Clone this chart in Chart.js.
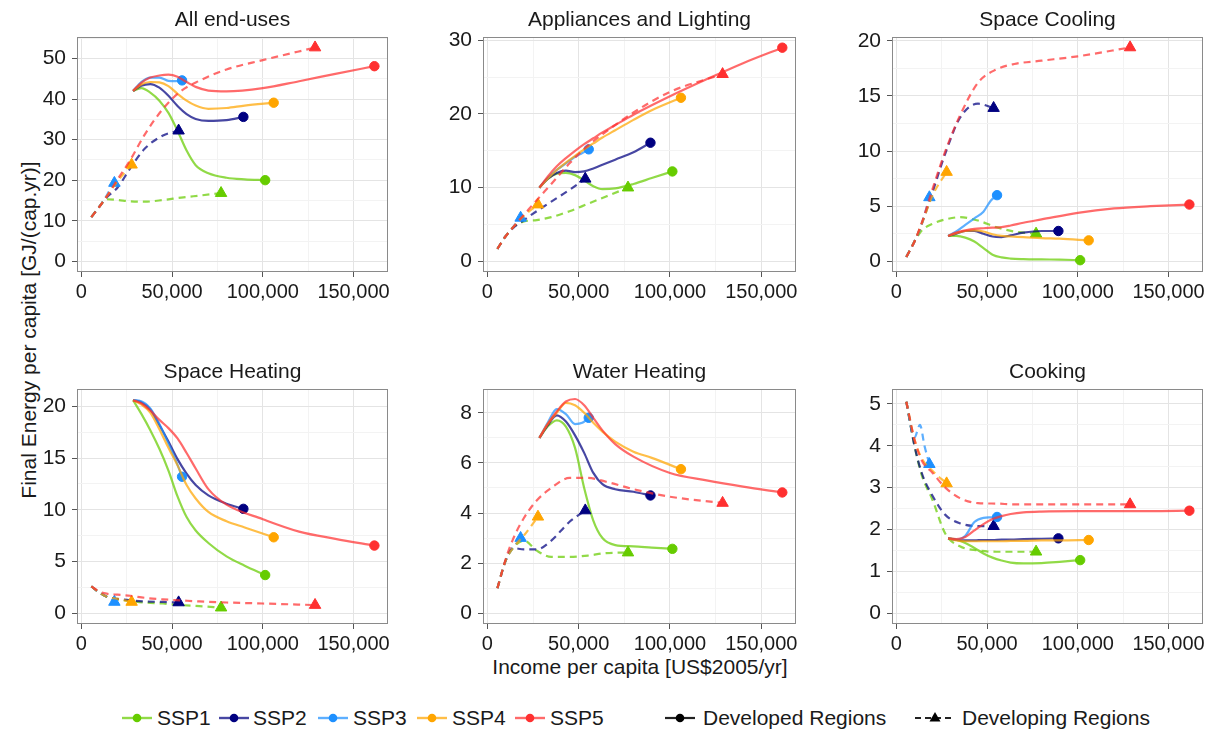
<!DOCTYPE html>
<html>
<head>
<meta charset="utf-8">
<script src="https://cdn.jsdelivr.net/npm/chart.js@4.4.1/dist/chart.umd.min.js"></script>
<style>
  body { margin: 0; background: #fff; width: 1215px; height: 731px; position: relative; overflow: hidden;
         font-family: "Liberation Sans", Arial, sans-serif; color: #1a1a1a; }
  canvas { position: absolute; }
  .txt { position: absolute; font-size: 21px; white-space: nowrap; line-height: 24px; }
  .ylab { left: 29px; top: 330px; transform: translate(-50%, -50%) rotate(-90deg); }
  .xlab { left: 640px; top: 667px; transform: translate(-50%, -50%); }
  .key { position: absolute; top: 708px; }
</style>
</head>
<body>
<div class="txt ylab">Final Energy per capita [GJ/(cap.yr)]</div>
<div class="txt xlab">Income per capita [US$2005/yr]</div>
<div id="legend"></div>

<script>
const FONT = '"Liberation Sans", Arial, sans-serif';

const ssps = ["SSP1", "SSP2", "SSP3", "SSP4", "SSP5"];
const panelTitles = ["All end-uses", "Appliances and Lighting", "Space Cooling",
                     "Space Heating", "Water Heating", "Cooking"];
const xTicks = [0, 50000, 100000, 150000];

// income per capita along each pathway (developed / developing), one row per SSP
const developedIncome = [
  [28500, 33000, 38000, 43000, 48000, 53000, 58000, 63000, 70000, 80000, 90000, 101300],
  [28500, 33000, 38000, 43000, 48000, 53000, 58000, 63000, 70000, 80000, 89300],
  [28500, 33000, 38000, 43000, 48000, 52000, 55500],
  [28500, 33000, 38000, 43000, 48000, 53000, 58000, 63000, 70000, 80000, 90000, 106000],
  [28500, 33000, 38000, 43000, 48000, 53000, 58000, 63000, 70000, 80000, 100000, 120000, 140000, 161500]
];
const developingIncome = [
  [5500, 10000, 14000, 20000, 27000, 35000, 45000, 55000, 65000, 77000],
  [5500, 10000, 14000, 20000, 27000, 35000, 45000, 53600],
  [5500, 10000, 13000, 15500, 18200],
  [5500, 10000, 14000, 20000, 27700],
  [5500, 10000, 14000, 20000, 27000, 35000, 45000, 55000, 65000, 80000, 100000, 128800]
];

// final energy per capita, GJ/(cap.yr)
const allEndUsesDeveloped = [
  [42, 42.7, 41.6, 39.6, 36.6, 32.2, 27.3, 23.7, 21.7, 20.6, 20.2, 20.0],
  [42, 43.3, 43.7, 42.8, 40.8, 38.3, 36.3, 35.1, 34.6, 34.8, 35.6],
  [42, 44.2, 45.3, 45.3, 44.5, 44.4, 44.6],
  [42, 43.6, 44.2, 44.1, 43.2, 41.3, 39.6, 38.4, 37.6, 37.8, 38.4, 39.1],
  [42, 44, 45.3, 45.8, 46, 45.5, 44.2, 43, 42.1, 41.9, 42.7, 44.4, 46.2, 48.1]
];
const allEndUsesDeveloping = [
  [10.9, 13.5, 15.3, 15.1, 14.8, 14.7, 15.1, 15.7, 16.2, 16.8],
  [10.9, 13.5, 15.8, 18.2, 23.0, 27.8, 31.0, 32.2],
  [10.9, 13.5, 15.5, 17.4, 19.3],
  [10.9, 13.5, 16.0, 19.8, 23.8],
  [10.9, 13.5, 16.0, 20.2, 25.0, 31.3, 37.6, 42.0, 44.5, 47.3, 49.6, 52.7]
];
const appliancesDeveloped = [
  [10, 11.2, 11.9, 12.0, 11.7, 11.0, 10.2, 9.8, 9.9, 10.5, 11.3, 12.2],
  [10, 11.2, 12.0, 12.3, 12.1, 12.2, 12.6, 13.1, 13.8, 14.8, 16.1],
  [10, 11.3, 12.4, 13.3, 14.2, 14.7, 15.2],
  [10, 11.2, 12.4, 13.4, 14.3, 15.2, 16.0, 16.8, 17.8, 19.2, 20.5, 22.2],
  [10, 11.5, 12.9, 14.0, 15.0, 15.9, 16.7, 17.5, 18.5, 19.9, 22.4, 24.7, 26.9, 29.0]
];
const appliancesDeveloping = [
  [1.7, 3.4, 4.6, 5.4, 5.6, 6.0, 6.8, 7.8, 8.8, 10.0],
  [1.7, 3.4, 4.5, 5.6, 6.8, 8.1, 9.7, 11.2],
  [1.7, 3.4, 4.3, 5.1, 5.9],
  [1.7, 3.4, 4.6, 6.2, 7.7],
  [1.7, 3.4, 4.6, 6.3, 8.3, 10.5, 13.3, 15.7, 17.6, 20.2, 23.0, 25.4]
];
const coolingDeveloped = [
  [2.3, 2.3, 2.15, 1.8, 1.2, 0.6, 0.35, 0.25, 0.2, 0.17, 0.15, 0.1],
  [2.3, 2.5, 2.75, 2.75, 2.5, 2.25, 2.2, 2.35, 2.6, 2.75, 2.75],
  [2.3, 2.7, 3.3, 3.9, 4.5, 5.5, 6.0],
  [2.3, 2.55, 2.75, 2.8, 2.7, 2.45, 2.3, 2.25, 2.2, 2.1, 2.05, 1.9],
  [2.3, 2.6, 2.8, 2.95, 3.0, 3.05, 3.1, 3.25, 3.5, 3.8, 4.4, 4.8, 5.0, 5.15]
];
const coolingDeveloping = [
  [0.4, 1.8, 2.8, 3.4, 3.8, 4.0, 3.7, 3.1, 2.7, 2.5],
  [0.4, 1.8, 3.4, 6.3, 9.8, 13.0, 14.3, 13.9],
  [0.4, 1.8, 2.9, 4.2, 5.8],
  [0.4, 1.8, 3.4, 6.0, 8.1],
  [0.4, 1.8, 3.5, 6.6, 10.0, 13.2, 16.2, 17.4, 17.9, 18.2, 18.6, 19.4]
];
const heatingDeveloped = [
  [20.6, 19.3, 17.7, 15.9, 13.8, 11.3, 9.3, 8.0, 6.8, 5.5, 4.6, 3.7],
  [20.6, 20.4, 19.7, 18.2, 16.6, 14.9, 13.5, 12.4, 11.4, 10.6, 10.1],
  [20.6, 20.5, 19.8, 18.3, 16.4, 14.8, 13.2],
  [20.6, 20.2, 19.4, 17.8, 16.0, 14.3, 12.4, 11.1, 9.8, 8.9, 8.3, 7.35],
  [20.6, 20.3, 19.6, 18.7, 17.9, 16.9, 15.5, 14.0, 12.0, 10.5, 9.1, 7.9, 7.2, 6.55]
];
const heatingDeveloping = [
  [2.6, 2.0, 1.6, 1.35, 1.2, 1.05, 0.95, 0.8, 0.7, 0.55],
  [2.6, 2.0, 1.6, 1.4, 1.25, 1.15, 1.1, 1.05],
  [2.6, 2.0, 1.7, 1.4, 1.1],
  [2.6, 2.0, 1.6, 1.4, 1.1],
  [2.6, 2.1, 1.9, 1.8, 1.7, 1.5, 1.35, 1.25, 1.15, 1.05, 0.95, 0.8]
];
const waterDeveloped = [
  [7.0, 7.45, 7.7, 7.45, 6.6, 5.0, 3.7, 3.0, 2.72, 2.67, 2.62, 2.57],
  [7.0, 7.5, 7.9, 7.65, 7.1, 6.4, 5.6, 5.15, 4.95, 4.85, 4.7],
  [7.0, 7.6, 8.15, 7.95, 7.55, 7.6, 7.8],
  [7.0, 7.55, 8.0, 8.4, 8.3, 8.0, 7.6, 7.25, 6.85, 6.45, 6.2, 5.75],
  [7.0, 7.55, 8.05, 8.45, 8.55, 8.3, 7.8, 7.3, 6.75, 6.25, 5.6, 5.3, 5.05, 4.82]
];
const waterDeveloping = [
  [1.0, 2.1, 2.6, 2.9, 2.5, 2.25, 2.25, 2.3, 2.4, 2.42],
  [1.0, 2.1, 2.6, 2.55, 2.55, 2.9, 3.65, 4.1],
  [1.0, 2.1, 2.5, 2.75, 3.0],
  [1.0, 2.1, 2.6, 3.1, 3.85],
  [1.0, 2.15, 2.95, 3.8, 4.5, 5.0, 5.4, 5.4, 5.25, 4.95, 4.65, 4.4]
];
const cookingDeveloped = [
  [1.79, 1.76, 1.68, 1.56, 1.43, 1.33, 1.26, 1.21, 1.19, 1.2, 1.23, 1.27],
  [1.79, 1.75, 1.74, 1.74, 1.75, 1.75, 1.76, 1.76, 1.77, 1.78, 1.79],
  [1.79, 1.76, 1.85, 2.18, 2.28, 2.29, 2.3],
  [1.79, 1.74, 1.72, 1.72, 1.72, 1.72, 1.72, 1.73, 1.73, 1.74, 1.74, 1.75],
  [1.79, 1.77, 1.82, 1.98, 2.13, 2.25, 2.32, 2.37, 2.41, 2.43, 2.44, 2.44, 2.44, 2.45]
];
const cookingDeveloping = [
  [5.05, 4.0, 3.3, 2.7, 1.9, 1.6, 1.5, 1.47, 1.47, 1.47],
  [5.05, 4.0, 3.35, 2.8, 2.35, 2.15, 2.08, 2.08],
  [5.05, 4.2, 4.5, 4.0, 3.56],
  [5.05, 4.15, 3.7, 3.4, 3.1],
  [5.05, 4.15, 3.65, 3.35, 3.0, 2.75, 2.63, 2.62, 2.6, 2.6, 2.6, 2.6]
];

const yTicksAllEndUses = [0, 10, 20, 30, 40, 50];
const yTicksAppliances = [0, 10, 20, 30];
const yTicksCooling = [0, 5, 10, 15, 20];
const yTicksHeating = [0, 5, 10, 15, 20];
const yTicksWater = [0, 2, 4, 6, 8];
const yTicksCooking = [0, 1, 2, 3, 4, 5];

const markerColors = ["#66CC00", "#000080", "#1E90FF", "#FFA500", "#FF3030"];
const lineColors = ["rgba(102,204,0,0.72)", "rgba(0,0,128,0.72)", "rgba(30,144,255,0.72)",
                    "rgba(255,165,0,0.72)", "rgba(255,48,48,0.72)"];

const panels = [
  { dev: allEndUsesDeveloped, dvg: allEndUsesDeveloping, yTicks: yTicksAllEndUses, yMin: -2.64, yMax: 55.3 },
  { dev: appliancesDeveloped, dvg: appliancesDeveloping, yTicks: yTicksAppliances, yMin: -1.45, yMax: 30.45 },
  { dev: coolingDeveloped, dvg: coolingDeveloping, yTicks: yTicksCooling, yMin: -0.97, yMax: 20.35 },
  { dev: heatingDeveloped, dvg: heatingDeveloping, yTicks: yTicksHeating, yMin: -1.03, yMax: 21.68 },
  { dev: waterDeveloped, dvg: waterDeveloping, yTicks: yTicksWater, yMin: -0.43, yMax: 8.95 },
  { dev: cookingDeveloped, dvg: cookingDeveloping, yTicks: yTicksCooking, yMin: -0.255, yMax: 5.355 }
];

// plot-area geometry
const colLeft = [77, 483, 892];
const colWidth = [311, 313, 311];
const rowTop = [37, 389];
const plotH = 235;
const AXIS_W = 50, TITLE_H = 37, AXIS_H = 34, PAD_R = 40;

function isMajor(v, majors) {
  return majors.some(m => Math.abs(m - v) < 1e-9);
}
// majors plus the ggplot-style minor breaks halfway between them
function withMinor(majors, lo, hi) {
  const step = majors[1] - majors[0];
  const out = [];
  for (let v = majors[0] - step; v <= majors[majors.length - 1] + step + 1e-9; v += step / 2) {
    const r = Math.round(v * 1000) / 1000;
    if (r >= lo && r <= hi) out.push(r);
  }
  return out;
}

const panelBorder = {
  id: "panelBorder",
  afterDraw(chart) {
    const { ctx, chartArea: a } = chart;
    ctx.save();
    ctx.strokeStyle = "#8a8a8a";
    ctx.lineWidth = 1;
    ctx.strokeRect(Math.round(a.left) + 0.5, Math.round(a.top) + 0.5,
                   Math.round(a.right - a.left) - 1, Math.round(a.bottom - a.top) - 1);
    ctx.restore();
  }
};

function lineDataset(xs, ys, i, developing) {
  const last = xs.length - 1;
  return {
    label: ssps[i] + (developing ? " developing" : " developed"),
    data: xs.map((x, k) => ({ x: x, y: ys[k] })),
    borderColor: lineColors[i],
    borderWidth: 2.2,
    borderDash: developing ? [7, 5] : [],
    cubicInterpolationMode: "monotone",
    pointStyle: developing ? "triangle" : "circle",
    pointRadius: ctx => (ctx.dataIndex === last ? (developing ? 6.6 : 4.7) : 0),
    pointHoverRadius: 0,
    pointBackgroundColor: markerColors[i],
    pointBorderColor: markerColors[i],
    pointBorderWidth: 1,
    order: (4 - i) * 2 + (developing ? 1 : 0)
  };
}

panels.forEach((p, n) => {
  const col = n % 3, row = Math.floor(n / 3);
  const canvas = document.createElement("canvas");
  canvas.width = AXIS_W + colWidth[col] + PAD_R;
  canvas.height = TITLE_H + plotH + AXIS_H;
  canvas.style.left = (colLeft[col] - AXIS_W) + "px";
  canvas.style.top = (rowTop[row] - TITLE_H) + "px";
  document.body.appendChild(canvas);

  const datasets = [];
  for (let i = 0; i < ssps.length; i++) {
    datasets.push(lineDataset(developedIncome[i], p.dev[i], i, false));
    datasets.push(lineDataset(developingIncome[i], p.dvg[i], i, true));
  }

  const xMin = -2400, xMax = 169000;
  const xAll = withMinor(xTicks, xMin, xMax);
  const yAll = withMinor(p.yTicks, p.yMin, p.yMax);

  new Chart(canvas.getContext("2d"), {
    type: "line",
    data: { datasets: datasets },
    options: {
      responsive: false,
      animation: false,
      devicePixelRatio: 1,
      layout: { padding: { left: 0, right: PAD_R, top: 0, bottom: 0 } },
      plugins: {
        legend: { display: false },
        tooltip: { enabled: false },
        title: {
          display: true,
          text: panelTitles[n],
          fullSize: false,
          color: "#1a1a1a",
          font: { family: FONT, size: 21, weight: "normal" },
          padding: { top: 8.1, bottom: 3.7 }
        }
      },
      scales: {
        x: {
          type: "linear",
          min: xMin,
          max: xMax,
          afterBuildTicks: s => { s.ticks = xAll.map(v => ({ value: v })); },
          afterFit: s => { s.height = AXIS_H; s.paddingLeft = 0; s.paddingRight = 0; },
          border: { display: false },
          grid: {
            color: c => (c.tick && isMajor(c.tick.value, xTicks) ? "#e4e4e4" : "#f3f3f3"),
            tickColor: c => (c.tick && isMajor(c.tick.value, xTicks) ? "#555" : "rgba(0,0,0,0)"),
            tickLength: 5,
            lineWidth: 1
          },
          ticks: {
            autoSkip: false,
            maxRotation: 0,
            padding: 3,
            color: "#1a1a1a",
            font: { family: FONT, size: 20 },
            callback: v => (isMajor(v, xTicks) ? v.toLocaleString("en-US") : "")
          }
        },
        y: {
          type: "linear",
          min: p.yMin,
          max: p.yMax,
          afterBuildTicks: s => { s.ticks = yAll.map(v => ({ value: v })); },
          afterFit: s => { s.width = AXIS_W; s.paddingTop = 0; s.paddingBottom = 0; },
          border: { display: false },
          grid: {
            color: c => (c.tick && isMajor(c.tick.value, p.yTicks) ? "#e4e4e4" : "#f3f3f3"),
            tickColor: c => (c.tick && isMajor(c.tick.value, p.yTicks) ? "#555" : "rgba(0,0,0,0)"),
            tickLength: 5,
            lineWidth: 1
          },
          ticks: {
            autoSkip: false,
            padding: 6,
            color: "#1a1a1a",
            font: { family: FONT, size: 21 },
            callback: v => (isMajor(v, p.yTicks) ? String(v) : "")
          }
        }
      }
    },
    plugins: [panelBorder]
  });
});

// legend (shared by all panels)
const legendItems = [
  { label: "SSP1", icon: 121, text: 157, color: 0 },
  { label: "SSP2", icon: 218, text: 253, color: 1 },
  { label: "SSP3", icon: 317, text: 353, color: 2 },
  { label: "SSP4", icon: 416, text: 452, color: 3 },
  { label: "SSP5", icon: 514, text: 550, color: 4 },
  { label: "Developed Regions", icon: 664, text: 703, kind: "developed" },
  { label: "Developing Regions", icon: 914, text: 962, kind: "developing" }
];
const legend = document.getElementById("legend");
legendItems.forEach(it => {
  let svg;
  if (it.kind === "developing") {
    svg = '<svg width="42" height="22"><line x1="1" y1="11" x2="41" y2="11" stroke="#222" stroke-width="2" stroke-dasharray="6,4"/>' +
          '<polygon points="21,5 26.5,14.5 15.5,14.5" fill="#000"/></svg>';
  } else if (it.kind === "developed") {
    svg = '<svg width="32" height="22"><line x1="1" y1="11" x2="31" y2="11" stroke="#222" stroke-width="2.2"/>' +
          '<circle cx="16" cy="11" r="4.3" fill="#000"/></svg>';
  } else {
    svg = '<svg width="32" height="22"><line x1="1" y1="11" x2="31" y2="11" stroke="' + lineColors[it.color] + '" stroke-width="2.4"/>' +
          '<circle cx="16" cy="11" r="4.3" fill="' + markerColors[it.color] + '"/></svg>';
  }
  const ic = document.createElement("div");
  ic.className = "key";
  ic.style.left = it.icon + "px";
  ic.style.top = "707px";
  ic.innerHTML = svg;
  legend.appendChild(ic);
  const tx = document.createElement("div");
  tx.className = "txt";
  tx.style.left = it.text + "px";
  tx.style.top = "706px";
  tx.textContent = it.label;
  legend.appendChild(tx);
});
</script>
</body>
</html>
